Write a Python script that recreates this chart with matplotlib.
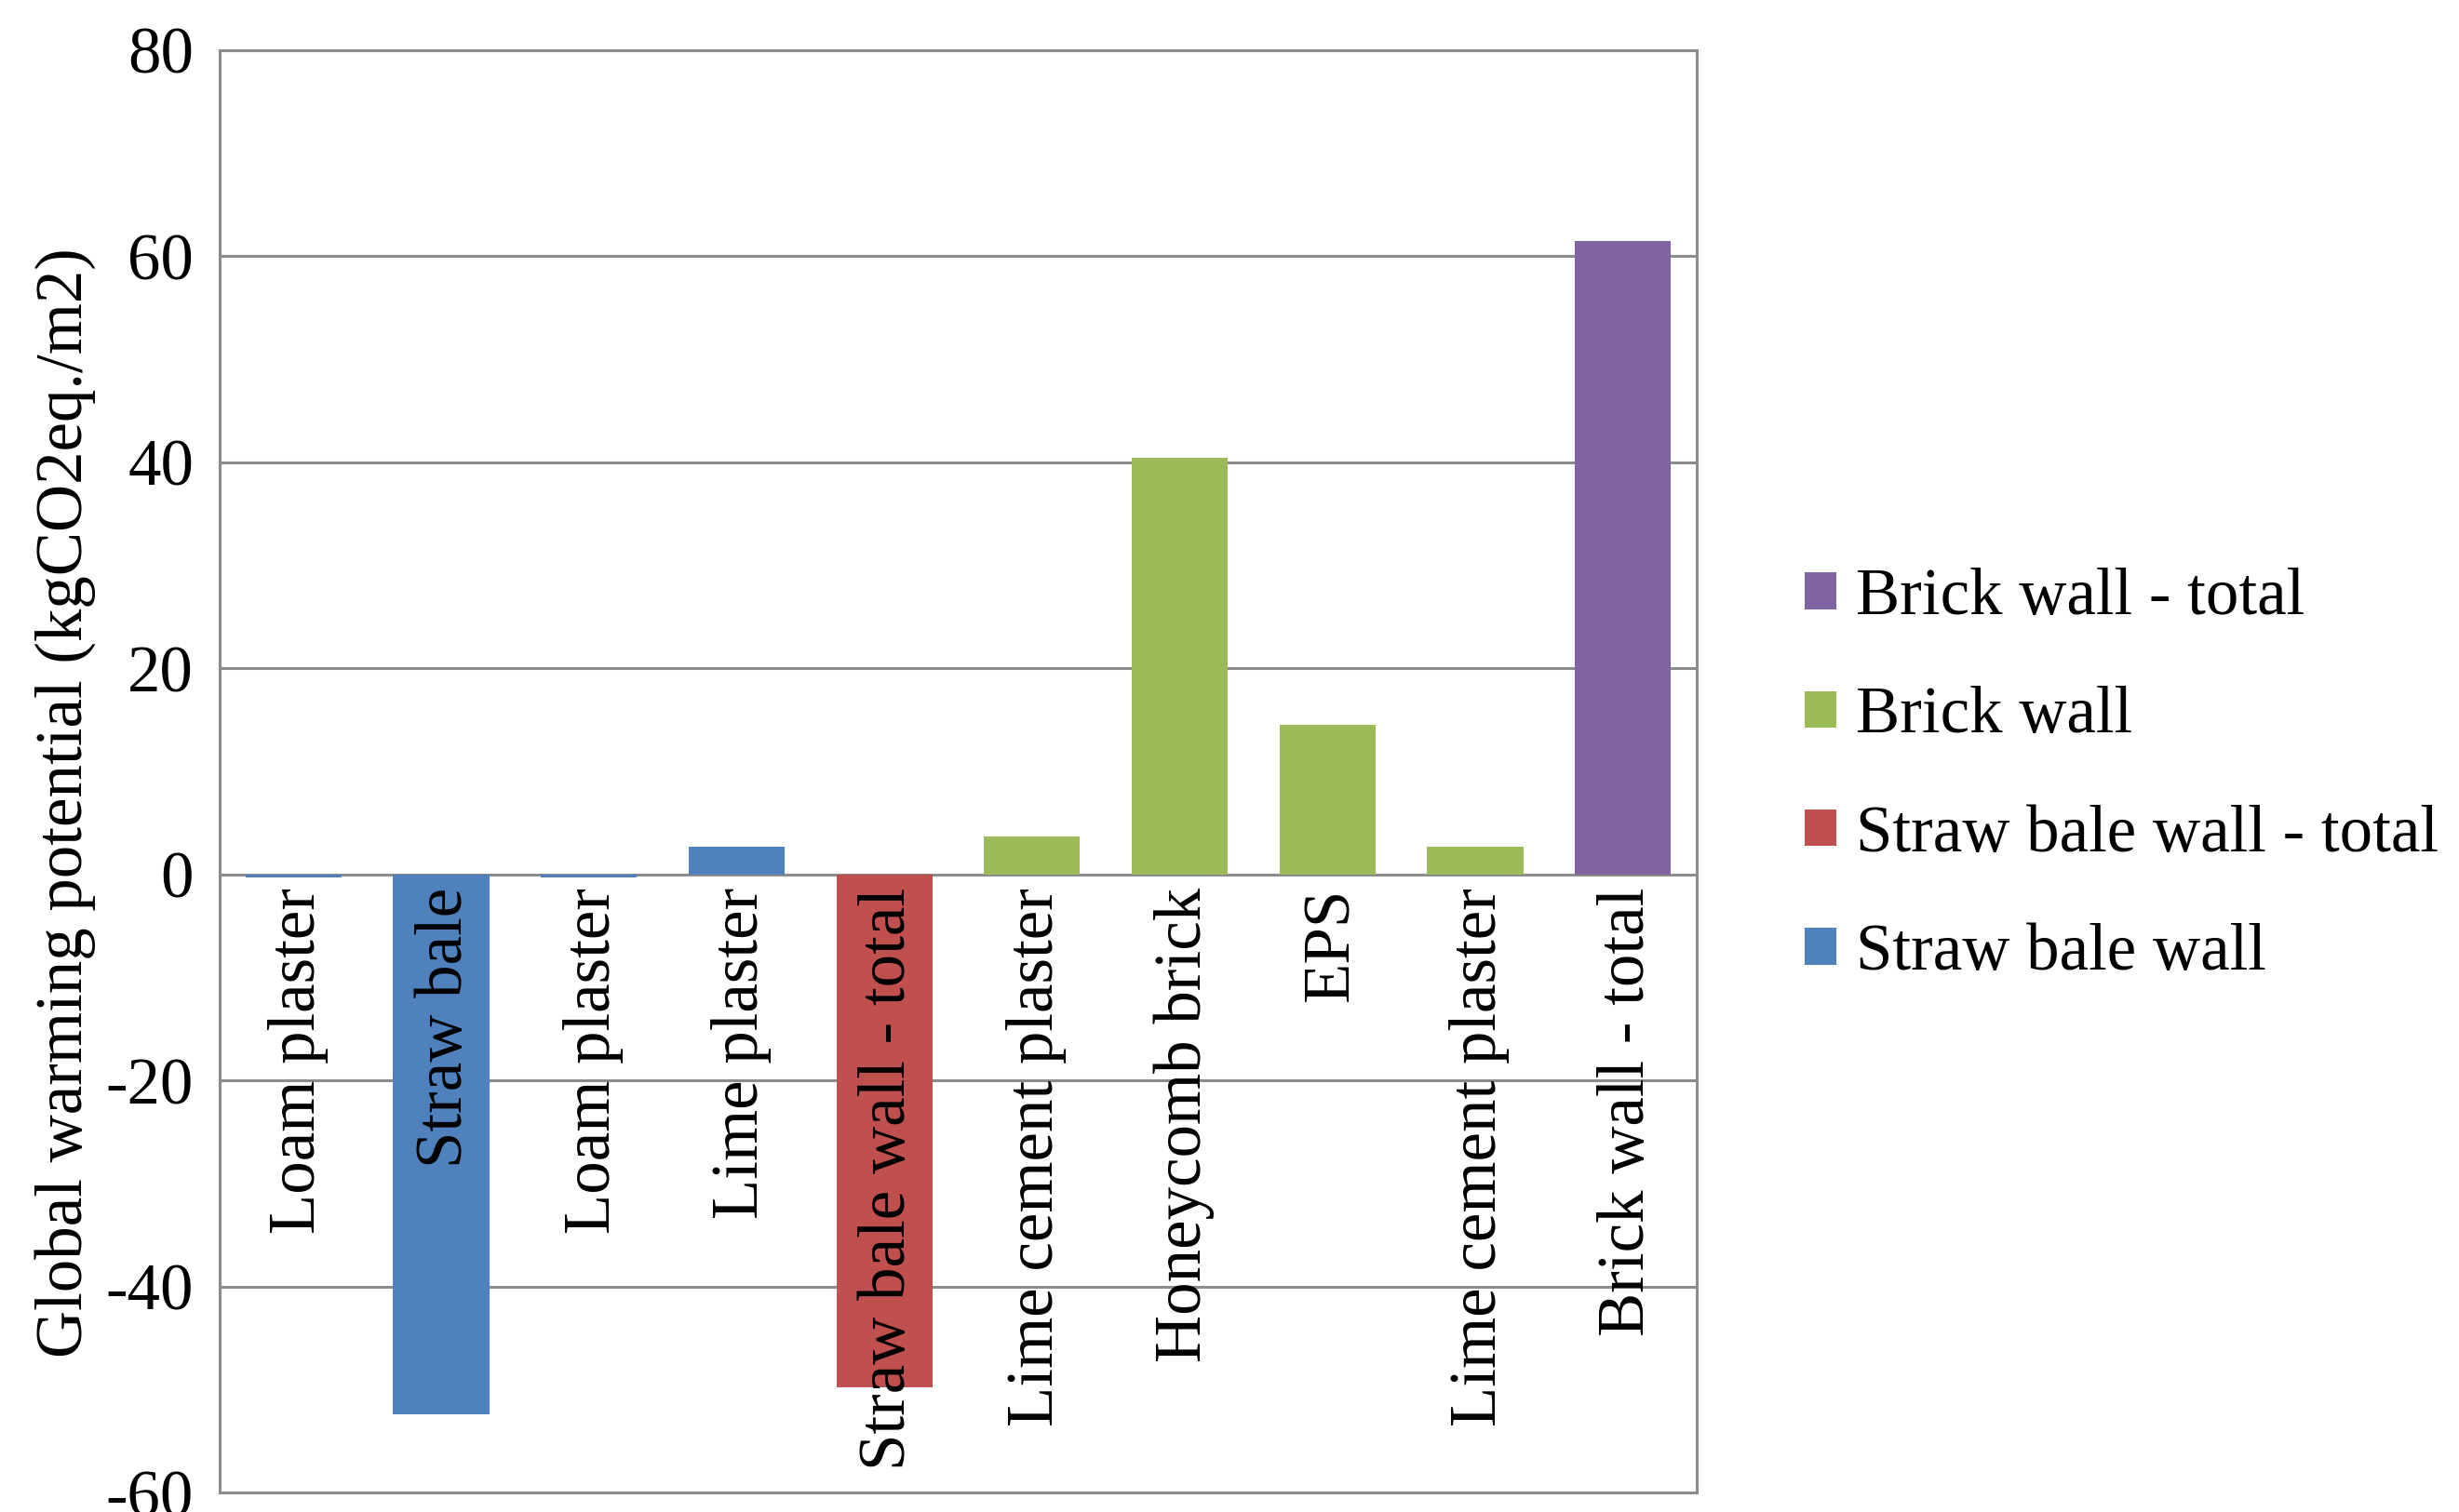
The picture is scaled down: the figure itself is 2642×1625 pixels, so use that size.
import numpy as np
import matplotlib
matplotlib.use('Agg')
import matplotlib.pyplot as plt
from matplotlib.patches import Patch

plt.rcParams['font.family'] = ['Liberation Serif', 'DejaVu Serif']

# bar data
categories = ['Loam plaster', 'Straw bale', 'Loam plaster', 'Lime plaster',
              'Straw bale wall - total', 'Lime cement plaster', 'Honeycomb brick',
              'EPS', 'Lime cement plaster', 'Brick wall - total']
values = [-0.3, -52.4, -0.3, 2.7, -49.8, 3.7, 40.4, 14.5, 2.7, 61.5]
groups = ['Straw bale wall', 'Straw bale wall', 'Straw bale wall', 'Straw bale wall',
          'Straw bale wall - total', 'Brick wall', 'Brick wall', 'Brick wall',
          'Brick wall', 'Brick wall - total']
legend_order = ['Brick wall - total', 'Brick wall', 'Straw bale wall - total', 'Straw bale wall']
group_colors = {'Straw bale wall': '#4F81BD', 'Straw bale wall - total': '#C0504D',
                'Brick wall': '#9BBB59', 'Brick wall - total': '#8064A2'}
yticks = [-60, -40, -20, 0, 20, 40, 60, 80]

fs = 51

fig = plt.figure(figsize=(26.42, 16.25), dpi=100)
ax = fig.add_axes([0.0893, 0.0129, 0.6007, 0.9539])

x = np.arange(len(categories))
ax.bar(x, values, width=0.65, color=[group_colors[g] for g in groups], zorder=3)

ax.set_xlim(-0.5, len(categories) - 0.5)
ax.set_ylim(-60, 80)
ax.set_yticks(yticks)
ax.set_yticklabels([str(t) for t in yticks])
ax.set_xticks([])
ax.tick_params(axis='y', length=0, pad=20, labelsize=fs)
ax.yaxis.grid(True, color='#8c8c8c', linewidth=2.2, zorder=1)
for s in ax.spines.values():
    s.set_color('#8c8c8c')
    s.set_linewidth(2.2)

# category names sit inside the plot, just under the zero line
for xi, name in zip(x, categories):
    ax.text(xi + 0.03, -1.3, name, rotation=90, ha='center', va='top', fontsize=fs, zorder=4)

ax.set_ylabel('Global warming potential (kgCO2eq./m2)', fontsize=fs)
ax.yaxis.set_label_coords(-0.084, 0.478)

handles = [Patch(facecolor=group_colors[g]) for g in legend_order]
fig.legend(handles, legend_order, loc='center left', bbox_to_anchor=(0.734, 0.487),
           frameon=False, fontsize=fs, handlelength=0.48, handleheight=0.48,
           handletextpad=0.3, labelspacing=0.88, borderpad=0, borderaxespad=0)

fig.savefig('out.png', dpi=100)
